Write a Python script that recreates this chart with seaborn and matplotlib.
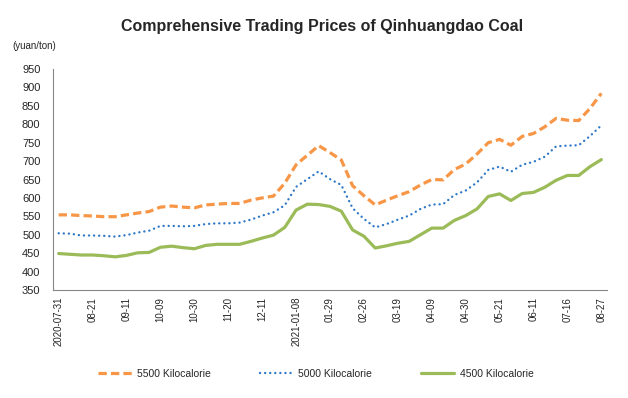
import matplotlib
matplotlib.use("Agg")
import matplotlib.pyplot as plt
from matplotlib import font_manager
from matplotlib.lines import Line2D
import numpy as np
import pandas as pd
import seaborn as sns

# --- data (yuan/ton, weekly) ---
dates = [
    "2020-07-31", "2020-08-07", "2020-08-14", "2020-08-21", "2020-08-28", "2020-09-04",
    "2020-09-11", "2020-09-18", "2020-09-25", "2020-10-09", "2020-10-16", "2020-10-23",
    "2020-10-30", "2020-11-06", "2020-11-13", "2020-11-20", "2020-11-27", "2020-12-04",
    "2020-12-11", "2020-12-18", "2020-12-25", "2021-01-08", "2021-01-15", "2021-01-22",
    "2021-01-29", "2021-02-05", "2021-02-19", "2021-02-26", "2021-03-05", "2021-03-12",
    "2021-03-19", "2021-03-26", "2021-04-02", "2021-04-09", "2021-04-16", "2021-04-23",
    "2021-04-30", "2021-05-07", "2021-05-14", "2021-05-21", "2021-05-28", "2021-06-04",
    "2021-06-11", "2021-06-25", "2021-07-02", "2021-07-16", "2021-07-30", "2021-08-13",
    "2021-08-27",
]
price_5500 = [
    554, 554, 552, 551, 549, 549, 554, 559, 563, 575, 578, 575,
    573, 581, 583, 585, 585, 594, 600, 605, 640, 690, 716, 742,
    723, 703, 633, 606, 581, 594, 606, 617, 635, 650, 649, 677,
    692, 719, 750, 759, 743, 767, 775, 793, 816, 811, 810, 843,
    884,
]
price_5000 = [
    504, 503, 498, 498, 497, 495, 499, 506, 511, 524, 524, 523,
    524, 529, 531, 531, 533, 541, 552, 561, 580, 630, 651, 672,
    651, 635, 572, 543, 520, 529, 541, 552, 570, 582, 583, 608,
    620, 642, 676, 685, 671, 690, 698, 712, 740, 742, 743, 768,
    797,
]
price_4500 = [
    449, 447, 445, 445, 443, 440, 444, 451, 452, 466, 469, 465,
    462, 471, 474, 474, 474, 482, 491, 499, 520, 567, 583, 582,
    577, 564, 513, 496, 464, 470, 477, 482, 500, 518, 518, 539,
    552, 570, 604, 611, 593, 612, 615, 629, 648, 661, 661, 685,
    704,
]
series_names = ["5500 Kilocalorie", "5000 Kilocalorie", "4500 Kilocalorie"]
y_ticks = list(range(350, 951, 50))
title = "Comprehensive Trading Prices of Qinhuangdao Coal"
unit_label = "(yuan/ton)"

# --- style ---
sns.set_style("white")
installed = {f.name for f in font_manager.fontManager.ttflist}
narrow = "Liberation Sans Narrow" if "Liberation Sans Narrow" in installed else "Liberation Sans"
plt.rcParams["font.family"] = [narrow, "DejaVu Sans"]

df = pd.DataFrame({
    "pos": np.arange(len(dates)),
    "date": dates,
    series_names[0]: price_5500,
    series_names[1]: price_5000,
    series_names[2]: price_4500,
})
long_df = df.melt(id_vars=["pos", "date"], var_name="series", value_name="price")

line_styles = {
    series_names[0]: dict(color="#F79646", ls=(0, (2.6, 1.3)), lw=2.3, cap="butt"),
    series_names[1]: dict(color="#2F78C8", ls=(0, (0.05, 2.1)), lw=1.7, cap="round"),
    series_names[2]: dict(color="#9BBB59", ls="-", lw=2.3, cap="butt"),
}

fig = plt.figure(figsize=(6.28, 3.98), dpi=100)
ax = fig.add_axes([53 / 628, 1 - 290 / 398, (607 - 53) / 628, (290 - 69) / 398])

handles = []
for name in series_names:
    st = line_styles[name]
    sns.lineplot(data=long_df[long_df["series"] == name], x="pos", y="price",
                 color=st["color"], ax=ax, legend=False)
    line = ax.lines[-1]
    line.set_linestyle(st["ls"])
    line.set_linewidth(st["lw"])
    line.set_dash_capstyle(st["cap"])
    line.set_solid_capstyle("round")
    h = Line2D([], [], color=st["color"], linestyle=st["ls"], linewidth=st["lw"])
    h.set_dash_capstyle(st["cap"])
    handles.append(h)

# axes and ticks
ax.set_xlim(-0.5, len(dates) - 0.5)
ax.set_ylim(350, 950)
ax.set_yticks(y_ticks)
label_pos = list(range(0, len(dates), 3))
labels = []
prev_year = None
for p in label_pos:
    yr = dates[p][:4]
    labels.append(dates[p] if yr != prev_year else dates[p][5:])
    prev_year = yr
ax.set_xticks(label_pos)
ax.set_xticklabels(labels, rotation=90)
ax.set_xticks(np.arange(0.5, len(dates), 3), minor=True)
ax.tick_params(axis="x", which="major", length=0, pad=5, labelsize=7)
ax.tick_params(axis="x", which="minor", length=4.5, direction="out", color="#868686", width=0.8)
ax.tick_params(axis="y", length=3.5, direction="in", color="#868686", width=0.8, pad=9, labelsize=8)
ax.set_xlabel("")
ax.set_ylabel("")
for side in ["top", "right"]:
    ax.spines[side].set_visible(False)
for side in ["left", "bottom"]:
    ax.spines[side].set_color("#868686")
    ax.spines[side].set_linewidth(0.8)

fig.text(322 / 628, 1 - 27 / 398, title, ha="center", va="center",
         fontsize=11.5, fontweight="bold", family=["Liberation Sans", "DejaVu Sans"])
fig.text(12 / 628, 1 - 46 / 398, unit_label, ha="left", va="center", fontsize=7)

fig.legend(handles, series_names, loc="center", bbox_to_anchor=(316 / 628, 1 - 374 / 398),
           ncol=3, frameon=False, handlelength=3.2, handletextpad=0.5,
           columnspacing=4.7, fontsize=7.5)

fig.savefig("out.png", dpi=100)
